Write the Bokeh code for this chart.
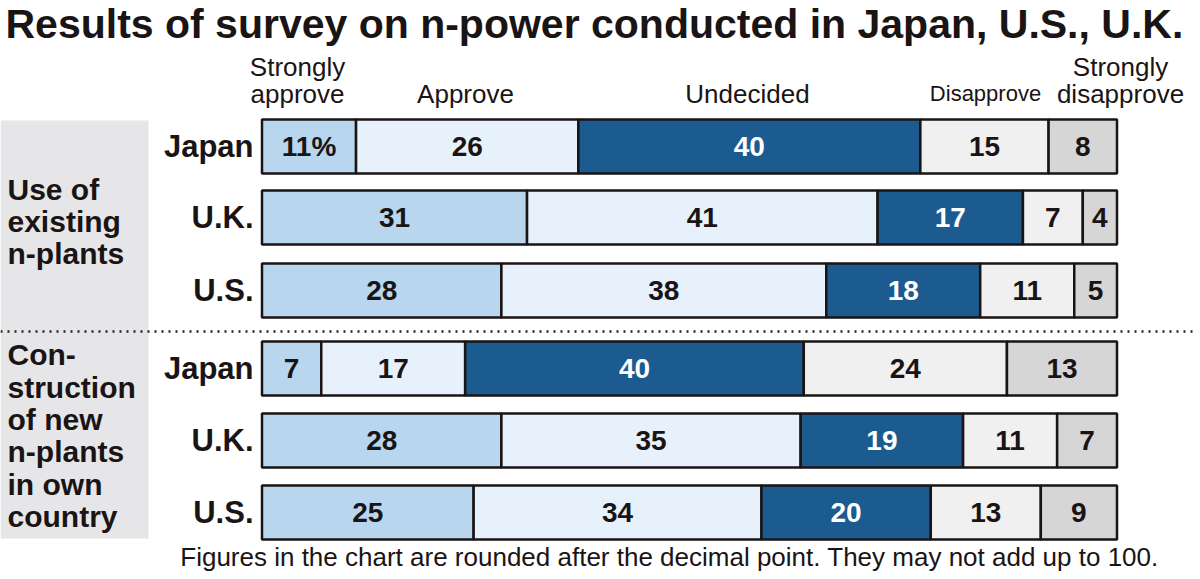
from bokeh.plotting import figure
from bokeh.models import Range1d, ColumnDataSource
from bokeh.core.properties import value
from bokeh.embed import file_html
from bokeh.resources import INLINE

# ---- data ----
categories = ["Strongly approve", "Approve", "Undecided", "Disapprove", "Strongly disapprove"]
countries = ["Japan", "U.K.", "U.S.", "Japan", "U.K.", "U.S."]
strongly_approve = [11, 31, 28, 7, 28, 25]
approve = [26, 41, 38, 17, 35, 34]
undecided = [40, 17, 18, 40, 19, 20]
disapprove = [15, 7, 11, 24, 11, 13]
strongly_disapprove = [8, 4, 5, 13, 7, 9]
groups = [["Use of", "existing", "n-plants"],
          ["Con-", "struction", "of new", "n-plants", "in own", "country"]]
title = "Results of survey on n-power conducted in Japan, U.S., U.K."
footnote = "Figures in the chart are rounded after the decimal point. They may not add up to 100."

# ---- layout / style ----
FONT = "Liberation Sans"
INK = "#1a1414"
colors = ["#b8d7ef", "#e6f1fb", "#1b5b8f", "#f0f0f0", "#d6d6d6"]
text_colors = [INK, INK, "#ffffff", INK, INK]
row_y = [146, 217, 290, 368, 440, 512]
BAR_H = 54
X0, SCALE = 261.5, 8.55   # pixel of value 0 and px per percent


def px(xr):
    return (xr - X0) / SCALE


W, H = 1200, 579
p = figure(width=W, height=H, output_backend="svg", toolbar_location=None,
           x_range=Range1d(px(0), px(W)), y_range=Range1d(H, 0),
           min_border=0, outline_line_color=None, background_fill_color="white",
           border_fill_color="white")
p.axis.visible = False
p.grid.visible = False

# grey panel for group labels
p.quad(left=[px(0)], right=[px(148)], top=[120], bottom=[538],
       fill_color="#e6e6e8", line_color=None)

# dotted separator
p.line(x=[px(0), px(1192)], y=[331, 331], line_color="#222222", line_width=2.5, line_dash="2 5")

series = [strongly_approve, approve, undecided, disapprove, strongly_disapprove]
for i in range(len(countries)):
    vals = [s[i] for s in series]
    tot = sum(vals)
    left = 0.0
    lefts, rights, mids = [], [], []
    for v in vals:
        w = v / tot * 100
        lefts.append(left)
        rights.append(left + w)
        mids.append(left + w / 2)
        left += w
    src = ColumnDataSource(dict(left=lefts, right=rights, mid=mids, y=[row_y[i]] * 5,
                                fill=colors, tc=text_colors,
                                lab=[(f"{v}%" if (i == 0 and k == 0) else str(v)) for k, v in enumerate(vals)]))
    p.hbar(y="y", left="left", right="right", height=BAR_H, fill_color="fill",
           line_color=INK, line_width=2.5, source=src)
    p.text(x="mid", y="y", text="lab", text_color="tc", text_font=value(FONT),
           text_font_style="bold", text_font_size="28px", text_align="center",
           text_baseline="middle", source=src)

# country labels
p.text(x=[px(253)] * 6, y=row_y, text=countries, text_font=value(FONT), text_font_style="bold",
       text_font_size="31px", text_align="right", text_baseline="middle", text_color=INK)

# group labels
g1_y = [189, 221, 253]
g2_y = [354, 387, 419, 451, 484, 516]
for lines, ys in zip(groups, [g1_y, g2_y]):
    p.text(x=[px(7)] * len(lines), y=ys, text=lines, text_font=value(FONT), text_font_style="bold",
           text_font_size="30px", text_align="left", text_baseline="middle", text_color=INK)

# header labels
hx = [297, 465, 747, 985, 1120]
hdr = [["Strongly", "approve"], ["Approve"], ["Undecided"], ["Disapprove"], ["Strongly", "disapprove"]]
for x, lines in zip(hx, hdr):
    ys = [66, 93] if len(lines) == 2 else [93]
    size = "22px" if lines == ["Disapprove"] else "26px"
    p.text(x=[px(x)] * len(lines), y=ys, text=lines, text_font=value(FONT), text_font_size=size,
           text_align="center", text_baseline="middle", text_color=INK)

# title
p.text(x=[px(5)], y=[23], text=[title], text_font=value(FONT), text_font_style="bold",
       text_font_size="41px", text_align="left", text_baseline="middle", text_color=INK)

# footnote
p.text(x=[px(669)], y=[556], text=[footnote], text_font=value(FONT), text_font_size="26px",
       text_align="center", text_baseline="middle", text_color=INK)

open("out.html", "w").write(file_html(p, INLINE))
